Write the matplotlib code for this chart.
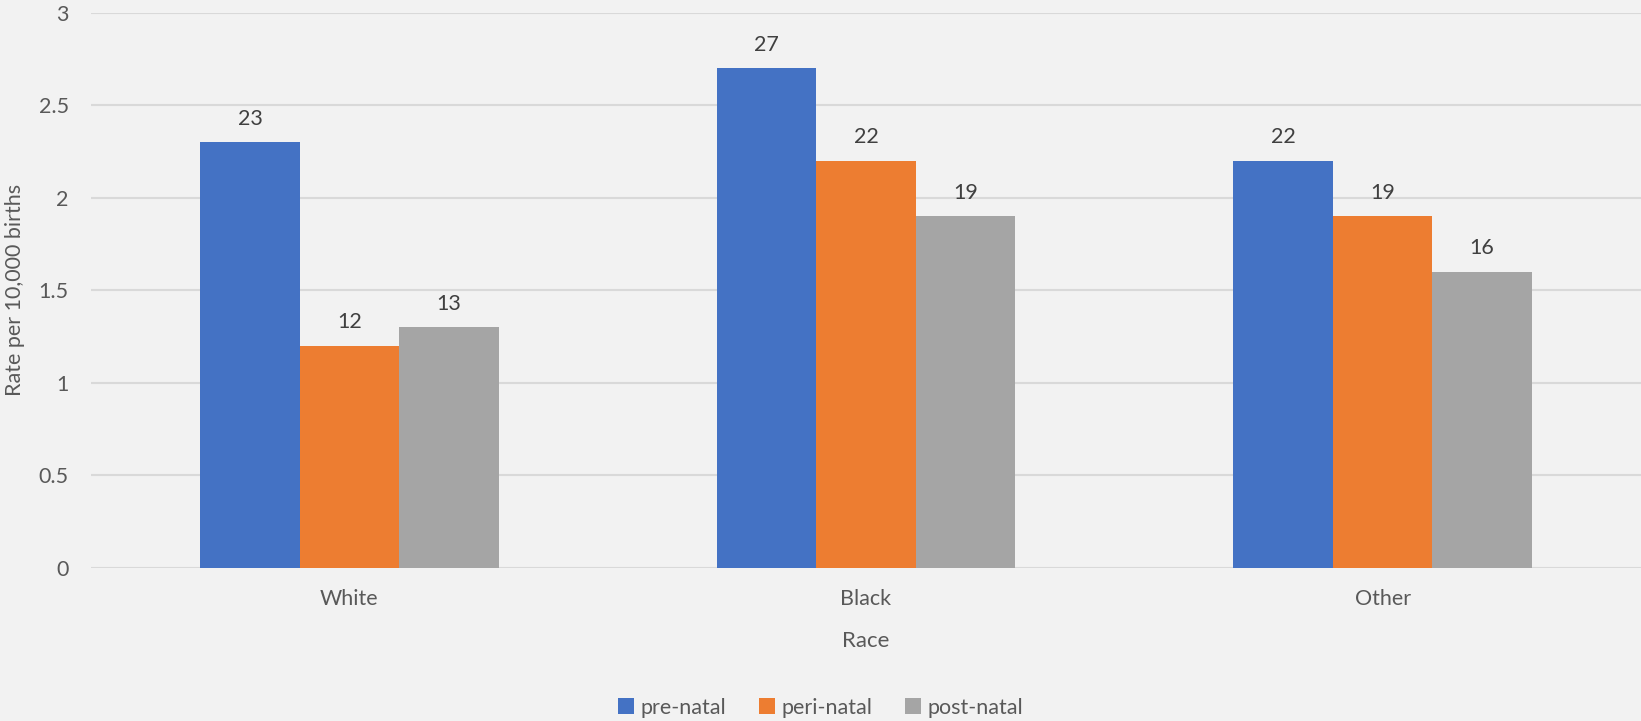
import matplotlib
matplotlib.use('Agg')
import matplotlib.pyplot as plt
import numpy as np

# ── data ───────────────────────────────────────────────────────────────────────
races = ['White', 'Black', 'Other']
series = ['pre-natal', 'peri-natal', 'post-natal']
pre_natal = [2.3, 2.7, 2.2]
peri_natal = [1.2, 2.2, 1.9]
post_natal = [1.3, 1.9, 1.6]
# labels shown above the bars (as printed in the chart)
pre_labels = ['23', '27', '22']
peri_labels = ['12', '22', '19']
post_labels = ['13', '19', '16']
y_ticks = [0, 0.5, 1, 1.5, 2, 2.5, 3]
y_tick_labels = ['0', '0.5', '1', '1.5', '2', '2.5', '3']

colors = ['#4472C4', '#ED7D31', '#A5A5A5']
bg = '#F2F2F2'
txt = '#595959'

plt.rcParams['font.family'] = ['Lato', 'DejaVu Sans']

fig = plt.figure(figsize=(16.41, 7.21), dpi=100, facecolor=bg)
ax = fig.add_axes([0.0555, 0.2122, 0.9445, 0.7698], facecolor=bg)

x = np.arange(len(races))
w = 0.1925
for i, (vals, labs, name) in enumerate([(pre_natal, pre_labels, series[0]),
                                         (peri_natal, peri_labels, series[1]),
                                         (post_natal, post_labels, series[2])]):
    bars = ax.bar(x + (i - 1) * w, vals, w, color=colors[i], label=name, zorder=3)
    ax.bar_label(bars, labels=labs, padding=10, fontsize=15.5, color='#404040')

ax.set_xlim(-0.5, 2.5)
ax.set_ylim(0, 3)
ax.set_yticks(y_ticks)
ax.set_yticklabels(y_tick_labels)
ax.set_xticks(x)
ax.set_xticklabels(races)
ax.tick_params(axis='both', length=0, labelsize=15.5, labelcolor=txt)
ax.tick_params(axis='y', pad=16)
ax.tick_params(axis='x', pad=15)
ax.grid(axis='y', color='#D9D9D9', lw=1.5, zorder=0)
for s in ax.spines.values():
    s.set_visible(False)

ax.set_xlabel('Race', fontsize=16, color=txt, labelpad=16)
fig.text(0.009, 0.598, 'Rate per 10,000 births', rotation=90, fontsize=15.5,
         color=txt, ha='center', va='center')

ax.legend(loc='center', bbox_to_anchor=((0.5 - 0.0555) / 0.9445, -0.252),
          ncol=3, frameon=False, fontsize=15.5, labelcolor=txt,
          handlelength=0.75, handleheight=0.75, handletextpad=0.3, columnspacing=1.5)

fig.savefig('out.png', dpi=100, facecolor=bg)
